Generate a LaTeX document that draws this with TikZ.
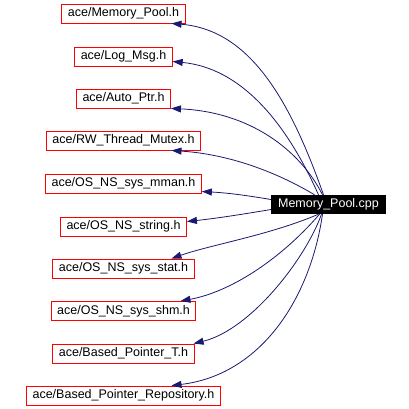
\documentclass[tikz,border=0pt]{standalone}
\usepackage{fontspec}
\setmainfont{Liberation Sans}
\usetikzlibrary{arrows.meta}
\definecolor{edgeblue}{HTML}{191970}
\begin{document}
\begin{tikzpicture}[x=1pt,y=-1pt,
  hdr/.style={draw=red, line width=0.9pt, fill=white, inner xsep=6pt, inner ysep=0pt,
    minimum height=19pt, font=\fontsize{12.5}{15}\selectfont, text=black},
  cppbox/.style={fill=black, inner xsep=7pt, inner ysep=0pt, minimum height=19pt,
    font=\fontsize{12.5}{15}\selectfont, text=white},
  edge/.style={draw=edgeblue, line width=0.8pt, -{Triangle[length=10pt,width=7pt]}}]
\useasboundingbox (0,0) rectangle (409,409);
\fill[white] (0,0) rectangle (409,409);

\node[cppbox] (cpp) at (328.5,204.5) {Memory\_Pool.cpp};

\node[hdr] (h1) at (123.5,13.5) {ace/Memory\_Pool.h};
\node[hdr] (h2) at (123.5,56.5) {ace/Log\_Msg.h};
\node[hdr] (h3) at (123.5,98.5) {ace/Auto\_Ptr.h};
\node[hdr] (h4) at (123.5,140.5) {ace/RW\_Thread\_Mutex.h};
\node[hdr] (h5) at (123.5,183.5) {ace/OS\_NS\_sys\_mman.h};
\node[hdr] (h6) at (123.5,226.5) {ace/OS\_NS\_string.h};
\node[hdr] (h7) at (123.5,268.5) {ace/OS\_NS\_sys\_stat.h};
\node[hdr] (h8) at (123.5,311) {ace/OS\_NS\_sys\_shm.h};
\node[hdr] (h9) at (123.5,353.5) {ace/Based\_Pointer\_T.h};
\node[hdr] (h10) at (123.5,395.5) {ace/Based\_Pointer\_Repository.h};

\draw[edge] ([xshift=-5pt]cpp.north) .. controls (290,100) and (250,30) .. ([xshift=48pt]h1.south);
\draw[edge] ([xshift=-10pt]cpp.north) .. controls (285,120) and (240,68) .. ([yshift=-5pt]h2.east);
\draw[edge] ([xshift=-6pt]cpp.north) .. controls (300,150) and (250,112) .. (h3.south east);
\draw[edge] ([xshift=-14pt]cpp.north) .. controls (290,180) and (240,155) .. ([xshift=48pt]h4.south);
\draw[edge] ([yshift=5pt]cpp.west) .. controls (250,196) and (230,193) .. ([yshift=-8pt]h5.east);
\draw[edge] ([yshift=-5pt]cpp.west) .. controls (250,213) and (220,218) .. ([yshift=5pt]h6.east);
\draw[edge] ([xshift=-10pt]cpp.south) .. controls (270,235) and (210,245) .. ([xshift=48pt]h7.north);
\draw[edge] ([xshift=-9pt]cpp.south) .. controls (280,260) and (230,292) .. ([xshift=57pt]h8.north);
\draw[edge] ([xshift=-7pt]cpp.south) .. controls (305,260) and (250,330) .. ([xshift=-1pt]h9.north east);
\draw[edge] ([xshift=-6pt]cpp.south) .. controls (310,300) and (260,375) .. ([xshift=48pt]h10.north);
\end{tikzpicture}
\end{document}
